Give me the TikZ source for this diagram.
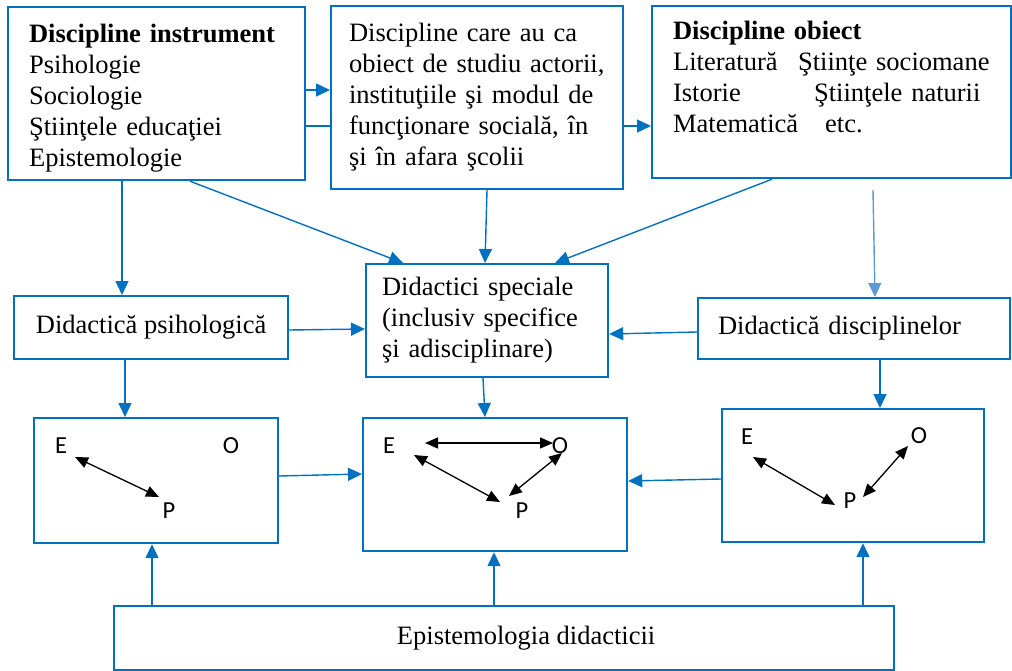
\documentclass[tikz,border=0pt]{standalone}
\usepackage{fontspec}
\setmainfont{Liberation Serif}
\newfontfamily\labelfont{Carlito}
\usetikzlibrary{arrows.meta}
\definecolor{linkblue}{HTML}{0070C0}
\definecolor{paleblue}{HTML}{5B9BD5}
\begin{document}
\begin{tikzpicture}[x=1pt,y=-1pt,
  box/.style={draw=linkblue, line width=2.2pt, anchor=north west, inner sep=0pt,
    font=\fontsize{26.5}{31}\selectfont},
  link/.style={draw=linkblue, line width=1.4pt, -{Triangle[length=14pt,width=13pt]}},
  plain/.style={draw=linkblue, line width=1.4pt},
  letter/.style={font=\labelfont\fontsize{24.5}{26}\selectfont, inner sep=1pt},
  rel/.style={line width=1.3pt, {Triangle[length=13pt,width=11pt]}-{Triangle[length=13pt,width=11pt]}}]
\useasboundingbox (0,0) rectangle (1012,671);

% top row: source disciplines
\node[box, minimum width=297, minimum height=173, text width=255, align=left] (n1) at (7,6)
  {\mbox{}\\[-3pt]\textbf{Discipline instrument}\\Psihologie\\Sociologie\\Ştiinţele educaţiei\\Epistemologie};
\node[box, minimum width=292, minimum height=183, text width=256, align=left] (n2) at (330,5)
  {Discipline care au ca\\obiect de studiu actorii,\\instituţiile şi modul de\\funcţionare socială, în\\şi în afara şcolii};
\node[box, minimum width=359, minimum height=172, text width=317, align=left] (n3) at (651,5)
  {\textbf{Discipline obiect}\\
   \makebox[125pt][l]{Literatură}Ştiinţe sociomane\\
   \makebox[141pt][l]{Istorie}Ştiinţele naturii\\
   \makebox[152pt][l]{Matematică}etc.\\ \mbox{}};

% middle row: didactics
\node[box, minimum width=274, minimum height=63, align=center] (dp) at (13,295) {Didactică psihologică};
\node[box, minimum width=242, minimum height=113, text width=210, align=left] (ds) at (365,263)
  {Didactici speciale\\(inclusiv specifice\\şi adisciplinare)};
\node[box, minimum width=312, minimum height=61, text width=272, align=left] (dd) at (697,297)
  {Didactică disciplinelor};

% E-O-P triangles
\node[box, minimum width=244, minimum height=125] (b1) at (33,417) {};
\node[box, minimum width=264, minimum height=133] (b2) at (362,417) {};
\node[box, minimum width=262, minimum height=133] (b3) at (721,408) {};

% bottom box
\node[box, minimum width=780, minimum height=64] (bot) at (113,605)
  {\hspace*{44pt}Epistemologia didacticii};

% letters
\node[letter] (e1) at (61,446) {E};
\node[letter] (o1) at (231,446) {O};
\node[letter] (p1) at (169,511) {P};
\node[letter] (e2) at (389,446) {E};
\node[letter] (o2) at (560,446) {O};
\node[letter] (p2) at (522,511) {P};
\node[letter] (e3) at (747,437) {E};
\node[letter] (o3) at (919,436) {O};
\node[letter] (p3) at (850,501) {P};

% relations inside the triangles
\draw[rel] ([shift={(14,11)}]e1.center) -- ([shift={(-10,-14)}]p1.center);
\draw[rel] ([shift={(36,-3)}]e2.center) -- ([shift={(-7,-3)}]o2.center);
\draw[rel] ([shift={(25,9)}]e2.center) -- ([shift={(-22,-9)}]p2.center);
\draw[rel] ([shift={(2,7)}]o2.center) -- ([shift={(-13,-15)}]p2.center);
\draw[rel] ([shift={(6,20)}]e3.center) -- ([shift={(-15,4)}]p3.center);
\draw[rel] ([shift={(-11,10)}]o3.center) -- ([shift={(13,-4)}]p3.center);

% connectors between the top boxes
\draw[link] (n1.east |- 0,90) -- (n2.west |- 0,90);
\draw[plain] (n1.east |- 0,126) -- (n2.west |- 0,126);
\draw[link] (n2.east |- 0,126) -- (n3.west |- 0,126);

% top row to didactics
\draw[link] (n1.south -| 122,0) -- (dp.north -| 122,0);
\draw[link] (n1.south -| 190,0) -- (ds.north -| 403,0);
\draw[link] (n2.south -| 487,0) -- (ds.north -| 485,0);
\draw[link] (n3.south -| 772,0) -- (ds.north -| 555,0);
\coordinate (ddin) at (873,190);
\draw[link, draw=paleblue] (ddin) -- (dd.north -| 875,0);

% didactics to the special didactics
\draw[link] (dp.east |- 0,330) -- (ds.west |- 0,329);
\draw[link] (dd.west |- 0,332) -- (ds.east |- 0,334);

% didactics to triangles
\draw[link] (dp.south -| 125,0) -- (b1.north -| 125,0);
\draw[link] (ds.south -| 483,0) -- (b2.north -| 485,0);
\draw[link] (dd.south -| 880,0) -- (b3.north -| 880,0);

% triangles to the middle one
\draw[link] (b1.east |- 0,476) -- (b2.west |- 0,474);
\draw[link] (b3.west |- 0,479) -- (b2.east |- 0,481);

% epistemology feeding the triangles
\draw[link] (bot.north -| 152,0) -- (b1.south -| 152,0);
\draw[link] (bot.north -| 494,0) -- (b2.south -| 494,0);
\draw[link] (bot.north -| 863,0) -- (b3.south -| 863,0);
\end{tikzpicture}
\end{document}
